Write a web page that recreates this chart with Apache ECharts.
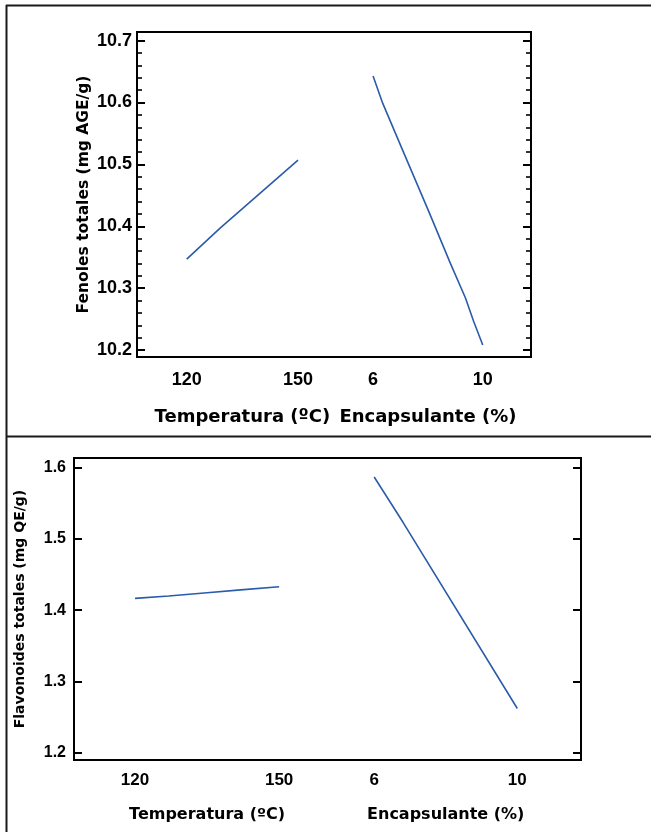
<!DOCTYPE html>
<html>
<head>
<meta charset="utf-8">
<script src="https://cdn.jsdelivr.net/npm/echarts@6/dist/echarts.min.js"></script>
<style>
  html, body { margin: 0; padding: 0; background: #fff; }
  #chart { width: 651px; height: 832px; }
</style>
</head>
<body>
<div id="chart"></div>
<script>
// Upper panel: total phenolics (mg AGE/g) versus each factor
const fenTempX = [120, 129, 150];
const fenTempY = [10.347, 10.397, 10.507];
const fenEncX = [6.0, 6.35, 7.05, 8.03, 8.82, 9.37, 9.67, 10.0];
const fenEncY = [10.643, 10.599, 10.526, 10.424, 10.340, 10.284, 10.246, 10.208];
const fenMajorTicks = [10.2, 10.3, 10.4, 10.5, 10.6, 10.7];
const fenMinorTicks = [10.22, 10.24, 10.26, 10.28, 10.32, 10.34, 10.36, 10.38,
                       10.42, 10.44, 10.46, 10.48, 10.52, 10.54, 10.56, 10.58,
                       10.62, 10.64, 10.66, 10.68];

// Lower panel: total flavonoids (mg QE/g) versus each factor
const flaTempX = [120, 127, 135, 142, 150];
const flaTempY = [1.4165, 1.4199, 1.4245, 1.4285, 1.4328];
const flaEncX = [6.0, 6.81, 10.0];
const flaEncY = [1.587, 1.523, 1.262];
const flaMajorTicks = [1.2, 1.3, 1.4, 1.5, 1.6];

// Factor levels shown on the horizontal axes
const tempTicks = [120, 150];
const encTicks = [6, 10];
const tempTitle = 'Temperatura (ºC)';
const encTitle = 'Encapsulante (%)';
const fenTitle = 'Fenoles totales (mg AGE/g)';
const flaTitle = 'Flavonoides totales (mg QE/g)';

const pairs = (xs, ys) => xs.map((x, i) => [x, ys[i]]);

const TICK_FONT = '"Liberation Sans", Arial, sans-serif';
const TITLE_FONT = '"DejaVu Sans", sans-serif';
const LINE_COLOR = '#2a5caa';

function xAxisOf(grid, min, max, ticks, fontSize, margin) {
  return {
    type: 'value', gridIndex: grid, min: min, max: max, position: 'bottom',
    axisLine: { show: false, onZero: false }, axisTick: { show: false },
    splitLine: { show: false },
    axisLabel: {
      customValues: ticks, margin: margin, color: '#000',
      fontFamily: TICK_FONT, fontWeight: 'bold', fontSize: fontSize
    }
  };
}

function yAxisOf(grid, min, max, pos, ticks, len, opts) {
  opts = opts || {};
  const ax = {
    type: 'value', gridIndex: grid, min: min, max: max, position: pos,
    axisLine: { show: false, onZero: false }, splitLine: { show: false },
    axisTick: { show: true, inside: true, length: len, customValues: ticks,
                lineStyle: { color: '#000', width: opts.tickWidth || 2 } },
    axisLabel: { show: false }
  };
  if (opts.labels) {
    ax.axisLabel = {
      show: true, customValues: ticks, margin: opts.labelMargin, color: '#000',
      fontFamily: TICK_FONT, fontWeight: 'bold', fontSize: opts.fontSize,
      formatter: v => v.toFixed(1)
    };
  }
  if (opts.name) {
    ax.name = opts.name;
    ax.nameLocation = 'middle';
    ax.nameGap = opts.nameGap;
    ax.nameMoveOverlap = false;
    ax.nameTextStyle = { fontFamily: TITLE_FONT, fontWeight: 'bold',
                         fontSize: opts.nameSize, color: '#000' };
  }
  return ax;
}

const FEN_MIN = 10.1887, FEN_MAX = 10.714;
const FLA_MIN = 1.1897, FLA_MAX = 1.6136;

const chart = echarts.init(document.getElementById('chart'), null, { renderer: 'canvas' });

const option = {
  animation: false,
  backgroundColor: '#fff',
  grid: [
    { left: 137, top: 32, width: 394, height: 325, show: true,
      borderColor: '#000', borderWidth: 2, backgroundColor: 'transparent' },
    { left: 74, top: 458, width: 507, height: 302, show: true,
      borderColor: '#000', borderWidth: 2, backgroundColor: 'transparent' }
  ],
  xAxis: [
    xAxisOf(0, 106.6, 212.8, tempTicks, 18, 14),
    xAxisOf(0, -2.61, 11.76, encTicks, 18, 14),
    xAxisOf(1, 107.29, 212.85, tempTicks, 17, 12),
    xAxisOf(1, -2.39, 11.78, encTicks, 17, 12)
  ],
  yAxis: [
    yAxisOf(0, FEN_MIN, FEN_MAX, 'left', fenMajorTicks, 8,
            { labels: true, labelMargin: 5, fontSize: 18,
              name: fenTitle, nameGap: 45, nameSize: 15.5 }),
    yAxisOf(0, FEN_MIN, FEN_MAX, 'left', fenMinorTicks, 5, { tickWidth: 1.6 }),
    yAxisOf(0, FEN_MIN, FEN_MAX, 'right', fenMajorTicks, 8),
    yAxisOf(0, FEN_MIN, FEN_MAX, 'right', fenMinorTicks, 5, { tickWidth: 1.6 }),
    yAxisOf(1, FLA_MIN, FLA_MAX, 'left', flaMajorTicks, 8,
            { labels: true, labelMargin: 8, fontSize: 16,
              name: flaTitle, nameGap: 47, nameSize: 14 }),
    yAxisOf(1, FLA_MIN, FLA_MAX, 'right', flaMajorTicks, 8)
  ],
  series: [
    { type: 'line', xAxisIndex: 0, yAxisIndex: 0, data: pairs(fenTempX, fenTempY) },
    { type: 'line', xAxisIndex: 1, yAxisIndex: 0, data: pairs(fenEncX, fenEncY) },
    { type: 'line', xAxisIndex: 2, yAxisIndex: 4, data: pairs(flaTempX, flaTempY) },
    { type: 'line', xAxisIndex: 3, yAxisIndex: 4, data: pairs(flaEncX, flaEncY) }
  ].map(s => Object.assign(s, {
    showSymbol: false, symbol: 'none', silent: true,
    lineStyle: { color: LINE_COLOR, width: 1.6 }
  }))
};

chart.setOption(option);

// Factor titles sit centred beneath their own pair of level labels
function factorTitle(axisIndex, ticks, y, size, text) {
  const a = chart.convertToPixel({ xAxisIndex: axisIndex }, ticks[0]);
  const b = chart.convertToPixel({ xAxisIndex: axisIndex }, ticks[ticks.length - 1]);
  return {
    type: 'text', x: (a + b) / 2, y: y, silent: true,
    style: { text: text, align: 'center', verticalAlign: 'middle',
             font: 'bold ' + size + 'px ' + TITLE_FONT, fill: '#000' }
  };
}
const titles = [
  factorTitle(0, tempTicks, 417, 18, tempTitle),
  factorTitle(1, encTicks, 417, 18, encTitle),
  factorTitle(2, tempTicks, 815, 16, tempTitle),
  factorTitle(3, encTicks, 815, 16, encTitle)
];

// Panel frame: outer top and left rules plus the rule separating the two panels
const frame = [
  { shape: { x1: 6, y1: 5.5, x2: 651, y2: 5.5 } },
  { shape: { x1: 6.5, y1: 5, x2: 6.5, y2: 832 } },
  { shape: { x1: 6, y1: 436.5, x2: 651, y2: 436.5 } }
].map(l => Object.assign(l, { type: 'line', silent: true,
  style: { stroke: '#1a1a1a', lineWidth: 2 } }));

chart.setOption({ graphic: frame.concat(titles) });
</script>
</body>
</html>
